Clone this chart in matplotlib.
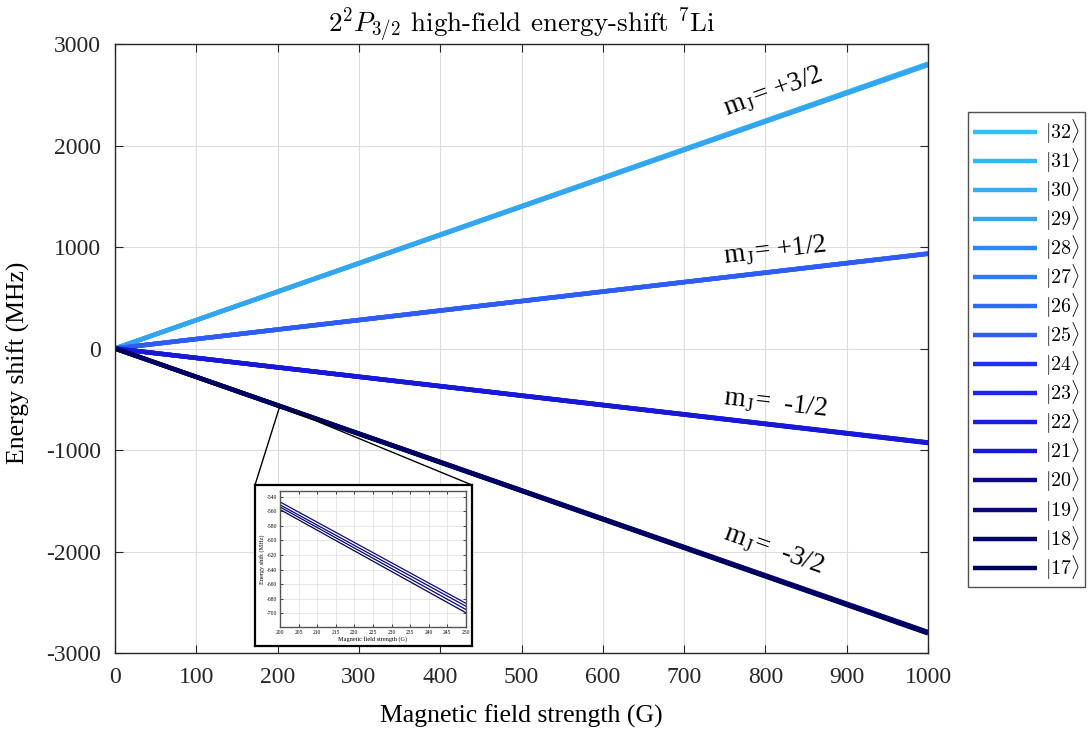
import numpy as np
import matplotlib
matplotlib.use("Agg")
from matplotlib import pyplot as plt
from matplotlib.patches import ConnectionPatch

plt.rcParams['mathtext.fontset'] = 'cm'
plt.rcParams['axes.unicode_minus'] = False
plt.rcParams['font.family'] = ['Liberation Serif', 'DejaVu Serif']

# field endpoints (G) and energy shifts (MHz) of every state, lines are straight
field = [0, 1000]
states = [32, 31, 30, 29, 28, 27, 26, 25, 24, 23, 22, 21, 20, 19, 18, 17]
shift_end = [2807, 2802, 2798, 2793,
             936, 935, 934, 933,
             -925, -927, -929, -931,
             -2793, -2798, -2802, -2807]
colors = ['#30c0f8', '#30b8f6', '#32aef4', '#35a5f2',
          '#2f88f5', '#2f7cf5', '#2f6cf5', '#2e5cf5',
          '#2030f0', '#1c26e6', '#1a1fde', '#1818d6',
          '#0c0888', '#0a0680', '#060470', '#00005e']

# zoomed region, -3/2 manifold (|20> .. |17>)
inset_field = [200, 250]
inset_start = [-547, -551, -554, -557.5]
inset_end = [-686.5, -690.5, -695, -699.5]
inset_colors = colors[12:]

labels_mj = ['m$_\\mathregular{J}$= +3/2', 'm$_\\mathregular{J}$= +1/2',
             'm$_\\mathregular{J}$=  -1/2', 'm$_\\mathregular{J}$=  -3/2']
label_pos = [(810, 2530), (812, 960), (812, -540), (810, -1985)]
label_rot = [20, 6.5, -6.5, -19.5]

fig = plt.figure(figsize=(10.88, 7.31), dpi=100)
ax = fig.add_axes([0.1057, 0.1067, 0.7473, 0.8331])

for s, e, c in zip(states, shift_end, colors):
    ax.plot(field, [0, e], color=c, lw=3.2, solid_capstyle='butt',
            label=r'$|%d\rangle$' % s)

ax.set_xlim(0, 1000)
ax.set_ylim(-3000, 3000)
ax.set_xticks(np.arange(0, 1001, 100))
ax.set_yticks(np.arange(-3000, 3001, 1000))
ax.tick_params(direction='in', length=6, width=0.8, top=True, right=True,
               labelsize=17, colors='#262626', pad=10)
for sp in ax.spines.values():
    sp.set_color('#262626')
    sp.set_linewidth(1.0)
ax.grid(True, color='#dcdcdc', lw=0.8)
ax.set_axisbelow(True)
ax.set_xlabel('Magnetic field strength (G)', fontsize=18.5, labelpad=12)
ax.set_ylabel('Energy shift (MHz)', fontsize=18.5)
ax.yaxis.set_label_coords(-0.104, 0.476)
ax.set_title(r'$2^2P_{3/2}$ high-field energy-shift $^7$Li',
             fontsize=19.5, family='cmr10', pad=9)

for t, p, r in zip(labels_mj, label_pos, label_rot):
    ax.text(p[0], p[1], t, rotation=r, rotation_mode='anchor',
            ha='center', va='center', fontsize=19.5)

leg = ax.legend(loc='upper left', bbox_to_anchor=(968 / 1088, 1 - 112 / 731),
                bbox_transform=fig.transFigure, fontsize=14.4, frameon=True,
                fancybox=False, edgecolor='#262626', handlelength=3.2,
                labelspacing=0.02, borderaxespad=0, borderpad=0.25,
                handletextpad=0.4)
leg.get_frame().set_linewidth(1.0)

# inset frame and inset axes
frame = fig.add_axes([255 / 1088, 1 - 646 / 731, 217 / 1088, 161 / 731])
frame.set_xticks([])
frame.set_yticks([])
for sp in frame.spines.values():
    sp.set_linewidth(1.6)
    sp.set_color('black')

axi = fig.add_axes([280 / 1088, 1 - 627 / 731, 186 / 1088, 136 / 731])
for st, en, c in zip(inset_start, inset_end, inset_colors):
    axi.plot(inset_field, [st, en], color=c, lw=0.9)
axi.set_xlim(200, 250)
axi.set_ylim(-719, -532)
axi.set_xticks(np.arange(200, 251, 5))
axi.set_yticks(np.arange(-700, -539, 20))
axi.tick_params(direction='in', length=2, width=0.5, top=True, right=True,
                labelsize=4, pad=2)
axi.grid(True, color='#dcdcdc', lw=0.5)
for sp in axi.spines.values():
    sp.set_color('#555555')
    sp.set_linewidth(1.0)
axi.set_xlabel('Magnetic field strength (G)', fontsize=4.5, labelpad=1)
axi.set_ylabel('Energy shift (MHz)', fontsize=4.5, labelpad=1)

# connectors from the zoomed spot on the -3/2 line to the inset corners
for xa, ya, xf in [(203, -560, 0), (213, -600, 1)]:
    con = ConnectionPatch(xyA=(xa, ya), coordsA=ax.transData,
                          xyB=(xf, 1), coordsB=frame.transAxes,
                          color='black', lw=1.0)
    fig.add_artist(con)

fig.savefig('out.png', dpi=100)
